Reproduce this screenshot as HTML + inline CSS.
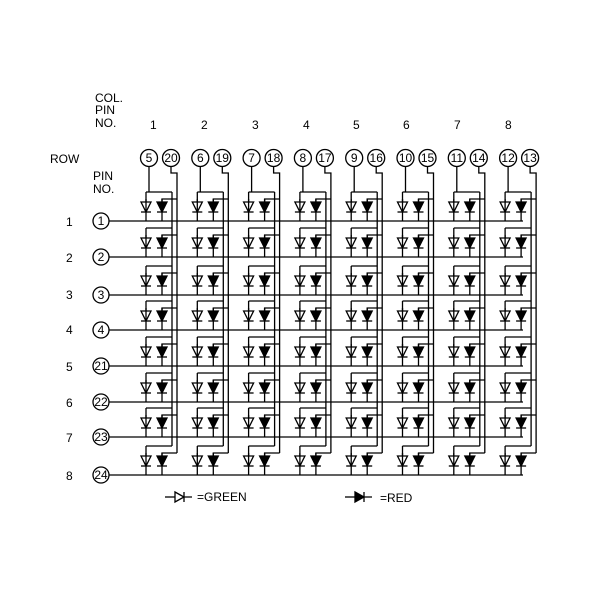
<!DOCTYPE html>
<html><head><style>body{margin:0;background:#fff}svg{display:block}text{font-family:"Liberation Sans",sans-serif;font-size:12px;fill:#000}</style></head>
<body>
<svg id="s" width="600" height="600" viewBox="0 0 600 600" stroke="#000" stroke-width="1.3" fill="none">
<g stroke="none">
<text x="95" y="102">COL.</text><text x="95" y="114">PIN</text><text x="95" y="127">NO.</text>
<text x="50" y="163">ROW</text><text x="93" y="180">PIN</text><text x="93" y="193">NO.</text>
<text x="150" y="129">1</text><text x="201" y="129">2</text><text x="252" y="129">3</text><text x="303" y="129">4</text><text x="353" y="129">5</text><text x="403" y="129">6</text><text x="454" y="129">7</text><text x="505" y="129">8</text>
<text x="66" y="226">1</text><text x="66" y="262">2</text><text x="66" y="299">3</text><text x="66" y="334">4</text><text x="66" y="371">5</text><text x="66" y="407">6</text><text x="66" y="442">7</text><text x="66" y="480">8</text>
<text x="197" y="501" font-size="10">=GREEN</text><text x="380" y="502">=RED</text>
</g>
<g id="pins" text-anchor="middle" font-size="11"></g>
<g id="g"></g>
</svg>
<script>
const g=document.getElementById('g'),p=document.getElementById('pins');
let h='';
const rows=[221,257,295,330,366,402,437,475];
const rp=['1','2','3','4','21','22','23','24'];
const gp=['5','6','7','8','9','10','11','12'],rpn=['20','19','18','17','16','15','14','13'];
function diode(x,Ly,f){return `<path d="M${x-5} ${Ly-19}h10l-5 10z" fill="${f?'#000':'none'}"/><path d="M${x-5} ${Ly-9}h10"/><path d="M${x} ${Ly-22}V${Ly}"/>`;}
rows.forEach((Ly,i)=>{h+=`<circle cx="101" cy="${Ly}" r="8"/><path d="M109 ${Ly}H523"/>`;});
for(let c=0;c<8;c++){const x0=146+c*51.3;
 h+=`<circle cx="${x0+3}" cy="158" r="8.5"/><circle cx="${x0+25}" cy="158" r="8.5"/>`;
 h+=`<path d="M${x0+3} 166.5V${rows[0]-29}"/><path d="M${x0+25} 166.5V173H${x0+31}V${rows[7]-22}"/><path d="M${x0+26} ${rows[0]-29}V${rows[7]-29}"/>`;
 rows.forEach(Ly=>{h+=`<path d="M${x0} ${Ly-29}H${x0+26}"/><path d="M${x0} ${Ly-29}V${Ly-19}"/><path d="M${x0+16} ${Ly-19}V${Ly-22}H${x0+31}"/>`+diode(x0,Ly,false)+diode(x0+16,Ly,true);});
}
h+=`<path d="M165 497h10"/><path d="M175 492l9 5-9 5z"/><path d="M184 492v10M184 497h8"/>`;
h+=`<path d="M345 497h10"/><path d="M355 492l9 5-9 5z" fill="#000"/><path d="M364 492v10M364 497h8"/>`;
g.innerHTML=h;
let t='';
rows.forEach((Ly,i)=>{t+=`<text x="101" y="${Ly+4}" stroke="none" fill="#000">${rp[i]}</text>`;});
for(let c=0;c<8;c++){const x0=146+c*51.3;t+=`<text x="${x0+3}" y="162" stroke="none" fill="#000">${gp[c]}</text><text x="${x0+25}" y="162" stroke="none" fill="#000">${rpn[c]}</text>`;}
p.innerHTML=t;
</script>
</body></html>
